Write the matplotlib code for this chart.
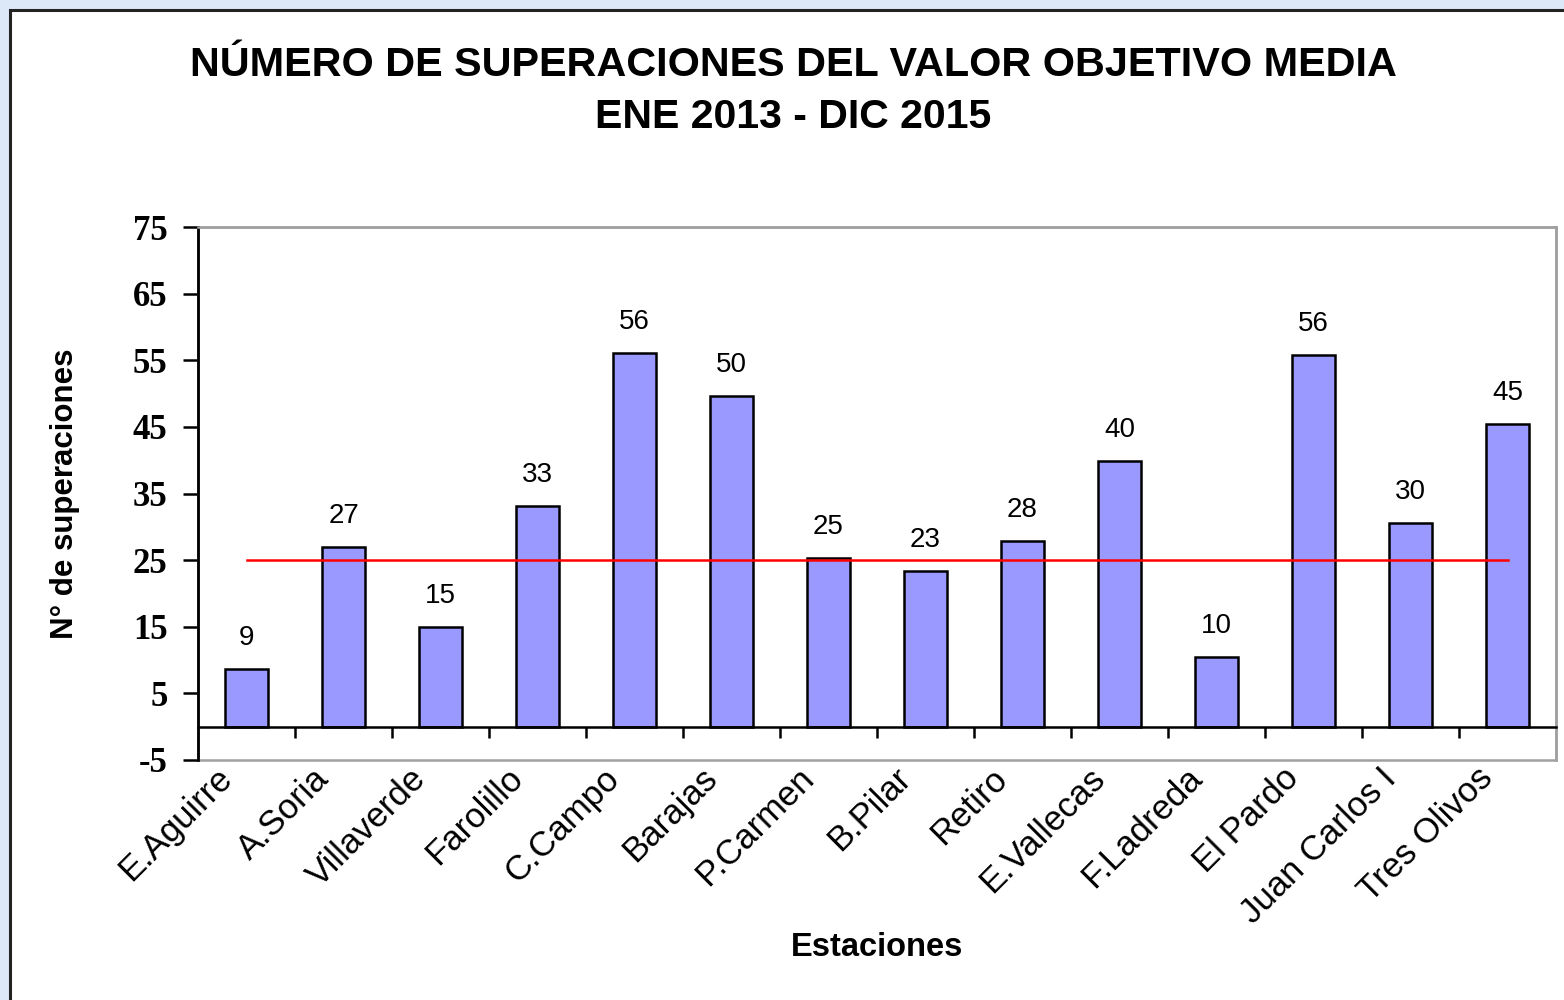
import matplotlib
matplotlib.use("Agg")
import matplotlib.pyplot as plt
from matplotlib.patches import Rectangle
from matplotlib.transforms import ScaledTranslation
import numpy as np

stations = ["E.Aguirre", "A.Soria", "Villaverde", "Farolillo", "C.Campo", "Barajas",
            "P.Carmen", "B.Pilar", "Retiro", "E.Vallecas", "F.Ladreda", "El Pardo",
            "Juan Carlos I", "Tres Olivos"]
exceedances = [8.6, 27.0, 15.0, 33.1, 56.1, 49.6, 25.3, 23.4, 27.9, 39.9, 10.4, 55.8, 30.5, 45.4]
labels = ["9", "27", "15", "33", "56", "50", "25", "23", "28", "40", "10", "56", "30", "45"]
target_value = 25
yticks = list(range(-5, 76, 10))

W, H = 1564, 1000
fig = plt.figure(figsize=(W / 100, H / 100), dpi=100)
fig.patch.set_facecolor("#dce8f8")
bg = Rectangle((10 / W, -0.1), 1.2, 1 - 10 / H + 0.1, transform=fig.transFigure,
               facecolor="white", edgecolor="#222222", linewidth=2.2, zorder=-5)
fig.patches.append(bg)

ax = fig.add_axes([198 / W, 1 - 760 / H, (1556 - 198) / W, (760 - 227) / H])
ax.set_zorder(2)
ax.set_facecolor("white")
x = np.arange(len(stations))
ax.bar(x, exceedances, width=0.44, color="#9999ff", edgecolor="black", linewidth=1.8, zorder=3)
ax.plot([x[0], x[-1]], [target_value, target_value], color="#ff0000", linewidth=1.8, zorder=4)

for xi, v, lab in zip(x, exceedances, labels):
    ax.annotate(lab, (xi, v), xytext=(0, 13), textcoords="offset points", ha="center", va="bottom",
                fontsize=20, family="Liberation Sans", color="black")

ax.set_xlim(-0.5, len(stations) - 0.5)
ax.set_ylim(-5, 75)
ax.set_yticks(yticks)
ax.set_yticklabels([str(t) for t in yticks], family="Liberation Serif", fontweight="bold", fontsize=25)
ax.tick_params(axis="y", direction="out", length=11, width=1.8, pad=11)

# bottom spine at zero with separator ticks
ax.spines["bottom"].set_position(("data", 0))
ax.spines["bottom"].set_color("black")
ax.spines["bottom"].set_linewidth(1.8)
ax.spines["bottom"].set_zorder(5)
ax.set_xticks(x)
ax.set_xticks(x[:-1] + 0.5, minor=True)
ax.set_xticklabels(stations, rotation=45, ha="right", va="center", rotation_mode="anchor",
                   family="Liberation Sans", fontsize=25)
ax.tick_params(axis="x", which="major", length=0, pad=35)
ax.tick_params(axis="x", which="minor", direction="out", length=8, width=1.8)

for s in ["top", "right"]:
    ax.spines[s].set_color("#a0a0a0")
    ax.spines[s].set_linewidth(1.8)
ax.spines["left"].set_color("black")
ax.spines["left"].set_linewidth(2)
ax.add_patch(Rectangle((0, 0), 1, 1, transform=ax.transAxes, fill=False, edgecolor="#a0a0a0",
                       linewidth=1.8, clip_on=False, zorder=2))

ax.set_ylabel("N° de superaciones", family="Liberation Sans", fontweight="bold", fontsize=22.5)
ax.yaxis.label.set_va("center")
ax.yaxis.set_label_coords((65 - 198) / 1358, 0.5)
ax.set_xlabel("Estaciones", family="Liberation Sans", fontweight="bold", fontsize=23.5)
ax.xaxis.label.set_va("center")
ax.xaxis.set_label_coords(0.5, (760 - 948) / 533)

fig.text(793 / W, 1 - 65 / H, "NÚMERO DE SUPERACIONES DEL VALOR OBJETIVO MEDIA", ha="center", va="center",
         family="Liberation Sans", fontweight="bold", fontsize=29.8)
fig.text(793 / W, 1 - 117 / H, "ENE 2013 - DIC 2015", ha="center", va="center",
         family="Liberation Sans", fontweight="bold", fontsize=29.5)

shift = ScaledTranslation(-20 / 100, 2 / 100, fig.dpi_scale_trans)
for lab in ax.get_xticklabels():
    lab.set_transform(lab.get_transform() + shift)

fig.savefig("out.png", dpi=100, facecolor=fig.get_facecolor())
